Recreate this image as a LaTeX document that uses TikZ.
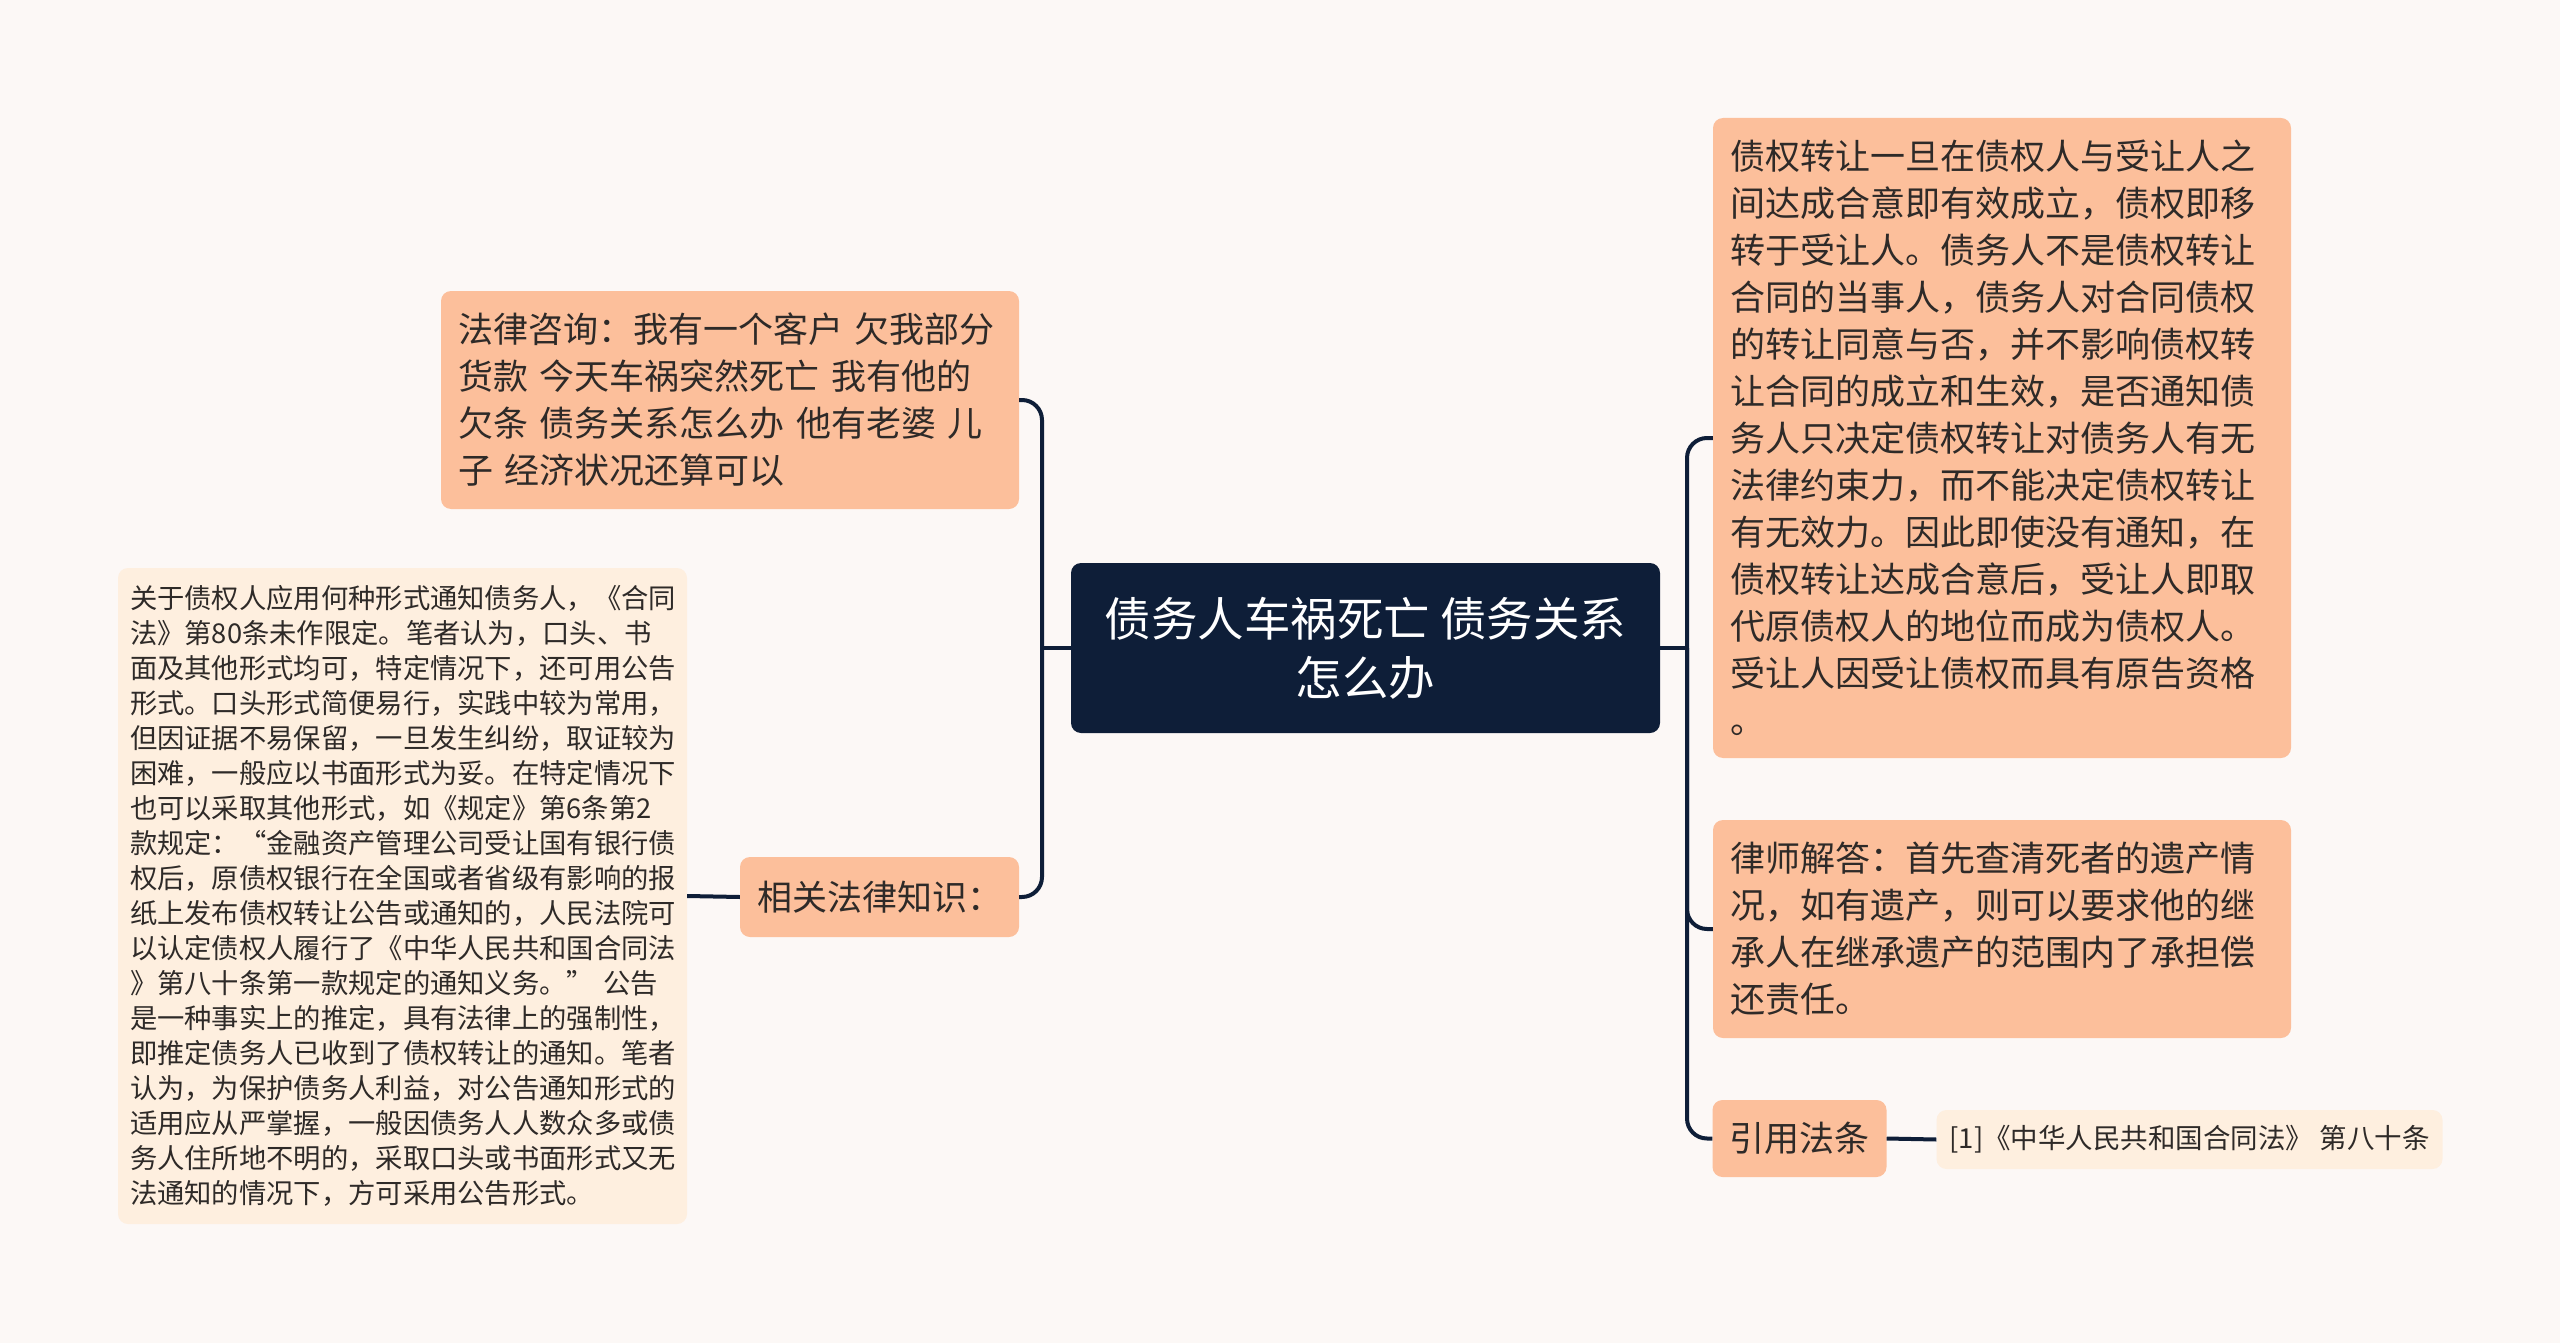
\documentclass[tikz,border=0pt]{standalone}
\usepackage{fontspec}
\newfontfamily\cjk{Noto Sans CJK SC}
\definecolor{bgc}{HTML}{FCF8F6}
\definecolor{peach}{HTML}{FCBF9B}
\definecolor{cream}{HTML}{FEEFDF}
\definecolor{navy}{HTML}{0E1E38}
\definecolor{txt}{HTML}{2E2A28}
\tikzset{
  box/.style={rounded corners=10pt, inner ysep=0pt, text=txt, align=left},
  peachbox/.style={box, fill=peach},
  creambox/.style={box, fill=cream},
  rootbox/.style={rounded corners=10pt, fill=navy, text=white, align=center, inner sep=0pt},
  conn/.style={draw=navy, line width=4pt},
  big/.style={font=\cjk\fontsize{35}{47}\selectfont},
}
\begin{document}
\begin{tikzpicture}[x=1pt,y=-1pt]
\useasboundingbox[fill=bgc] (0,0) rectangle (2560,1343);

\node[rootbox, minimum width=589pt, minimum height=170pt, font=\cjk\fontsize{46.5}{59}\selectfont]
  (root) at (1365.5,648) {债务人车祸死亡~债务关系\\怎么办};

\node[peachbox, big, inner xsep=17pt, text width=544pt, minimum height=218pt]
  (q) at (730,400) {法律咨询：我有一个客户~欠我部分\\货款~今天车祸突然死亡~我有他的\\欠条~债务关系怎么办~他有老婆~儿\\子~经济状况还算可以};

\node[peachbox, big, inner xsep=16pt, minimum width=279pt, minimum height=80pt]
  (rel) at (879.5,897) {相关法律知识：};

\node[creambox, inner xsep=12pt, text width=545pt, minimum height=656pt, font=\cjk\fontsize{27.3}{35}\selectfont]
  (detail) at (402.5,896) {关于债权人应用何种形式通知债务人，《合同\\法》第80条未作限定。笔者认为，口头、书\\面及其他形式均可，特定情况下，还可用公告\\形式。口头形式简便易行，实践中较为常用，\\但因证据不易保留，一旦发生纠纷，取证较为\\困难，一般应以书面形式为妥。在特定情况下\\也可以采取其他形式，如《规定》第6条第2\\款规定：“金融资产管理公司受让国有银行债\\权后，原债权银行在全国或者省级有影响的报\\纸上发布债权转让公告或通知的，人民法院可\\以认定债权人履行了《中华人民共和国合同法\\》第八十条第一款规定的通知义务。”~公告\\是一种事实上的推定，具有法律上的强制性，\\即推定债务人已收到了债权转让的通知。笔者\\认为，为保护债务人利益，对公告通知形式的\\适用应从严掌握，一般因债务人人数众多或债\\务人住所地不明的，采取口头或书面形式又无\\法通知的情况下，方可采用公告形式。};

\node[peachbox, big, inner xsep=17pt, text width=544pt, minimum height=640pt]
  (r1) at (2002,438) {债权转让一旦在债权人与受让人之\\间达成合意即有效成立，债权即移\\转于受让人。债务人不是债权转让\\合同的当事人，债务人对合同债权\\的转让同意与否，并不影响债权转\\让合同的成立和生效，是否通知债\\务人只决定债权转让对债务人有无\\法律约束力，而不能决定债权转让\\有无效力。因此即使没有通知，在\\债权转让达成合意后，受让人即取\\代原债权人的地位而成为债权人。\\受让人因受让债权而具有原告资格\\。};

\node[peachbox, big, inner xsep=17pt, text width=544pt, minimum height=218pt]
  (r2) at (2002,929) {律师解答：首先查清死者的遗产情\\况，如有遗产，则可以要求他的继\\承人在继承遗产的范围内了承担偿\\还责任。};

\node[peachbox, big, inner xsep=17pt, minimum width=173pt, minimum height=77pt]
  (cite) at (1799.5,1138.5) {引用法条};

\node[creambox, inner xsep=13pt, minimum width=503pt, minimum height=59pt, font=\cjk\fontsize{27.5}{36}\selectfont]
  (ref) at (2189.5,1139.5) {[1]《中华人民共和国合同法》~第八十条};

\coordinate (lj) at (1042,648);
\coordinate (rj) at (1687,648);

\draw[conn] (root.west) -- (lj);
\draw[conn, rounded corners=20pt] (q.east) -| (lj);
\draw[conn, rounded corners=20pt] (rel.east) -| (lj);
\draw[conn] (rel.west) -- (detail.east);

\draw[conn] (root.east) -- (rj);
\draw[conn, rounded corners=20pt] (r1.west) -| (rj);
\draw[conn, rounded corners=20pt] (r2.west) -| (rj);
\draw[conn, rounded corners=20pt] (cite.west) -| (rj);
\draw[conn] (cite.east) -- (ref.west);
\end{tikzpicture}
\end{document}
